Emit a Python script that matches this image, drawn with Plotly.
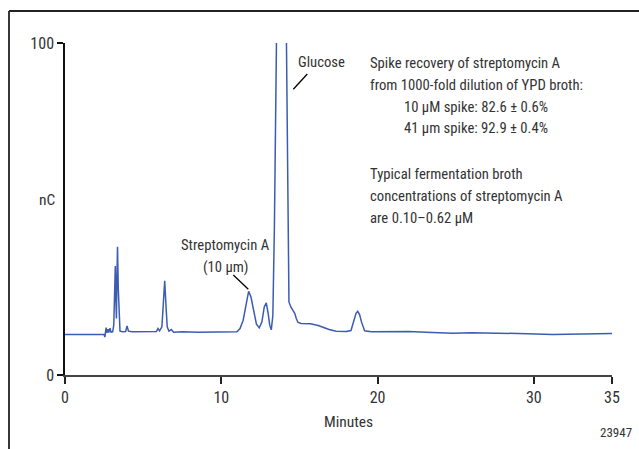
import plotly.graph_objects as go

# Chromatogram points (minutes, nC)
time_min = [0.0, 1.0, 2.0, 2.5, 2.55, 2.6, 2.63, 2.68, 2.75, 2.8, 2.88, 2.94, 3.05,
            3.12, 3.18, 3.22, 3.26, 3.29, 3.32, 3.36, 3.41, 3.46, 3.52, 3.7, 3.88,
            3.97, 4.06, 4.3, 5.0, 5.7, 5.85, 5.95, 6.05, 6.2, 6.3, 6.38, 6.46, 6.54,
            6.65, 6.8, 6.95, 7.5, 8.5, 9.5, 10.5, 11.0, 11.2, 11.4, 11.6, 11.75,
            11.9, 12.05, 12.25, 12.43, 12.6, 12.75, 12.88, 13.0, 13.1, 13.2, 13.3,
            13.4, 13.53, 13.7, 13.85, 14.0, 14.17, 14.27, 14.33, 14.45, 14.6, 14.7,
            14.8, 14.9, 15.1, 15.7, 16.2, 16.6, 16.9, 17.35, 18.0, 18.3, 18.5,
            18.62, 18.73, 18.85, 18.97, 19.17, 19.6, 21.0, 22.0, 23.5, 24.8, 26.0,
            27.4, 29.0, 31.2, 33.0, 35.0]
signal_nc = [12.2, 12.2, 12.2, 12.2, 11.4, 12.6, 14.3, 12.7, 13.8, 12.8, 14.1, 12.9, 13.0,
             15.0, 26.0, 32.8, 22.0, 17.0, 28.0, 38.6, 26.0, 16.0, 13.2, 13.0, 13.1,
             14.8, 13.2, 13.0, 13.0, 12.9, 13.1, 14.0, 13.3, 14.5, 21.0, 28.4, 21.0, 14.5,
             13.2, 13.7, 12.9, 13.0, 12.9, 12.9, 12.9, 13.0, 14.0, 16.5, 21.5, 25.2,
             23.5, 19.5, 15.3, 14.2, 16.0, 20.5, 21.7, 18.5, 15.0, 13.6, 18.0,
             45.0, 100.0, 300.0, 420.0, 300.0, 100.0, 40.0, 22.0, 20.5, 19.2, 18.6,
             17.0, 15.9, 15.5, 15.4, 14.9, 14.1, 13.7, 13.2, 13.1, 13.4, 16.5,
             18.6, 19.2, 18.2, 16.0, 13.3, 13.0, 13.1, 13.1, 12.8, 12.6, 12.7,
             12.7, 12.5, 12.2, 12.4, 12.5]

x_ticks = [0, 10, 20, 30, 35]
y_ticks = [0, 100]

recovery_lines = ["Spike recovery of streptomycin A",
                  "from 1000-fold dilution of YPD broth:"]
recovery_values = ["10 µM spike: 82.6 ± 0.6%",
                   "41 µm spike: 92.9 ± 0.4%"]
typical_lines = ["Typical fermentation broth",
                 "concentrations of streptomycin A",
                 "are 0.10–0.62 µM"]

W, H = 639, 449
ML, MR, MT, MB = 65, 27, 43, 74
PW, PH = W - ML - MR, H - MT - MB


def px(xp):
    return (xp - ML) / PW


def py(yp):
    return (H - MB - yp) / PH


FONT = "Liberation Sans Narrow, Roboto Condensed, DejaVu Sans Condensed, Arial Narrow, sans-serif"
TXT = "#333333"
TS = 14.7

fig = go.Figure()
fig.add_trace(go.Scatter(x=time_min, y=signal_nc, mode="lines",
                         line=dict(color="#3c5cb4", width=1.5),
                         hoverinfo="skip", showlegend=False))

annotations = []


def add_text(text, xp, yp, anchor="left", size=TS):
    annotations.append(dict(text=text, x=px(xp), y=py(yp), xref="paper", yref="paper",
                            xanchor=anchor, yanchor="middle", showarrow=False,
                            font=dict(family=FONT, size=size, color=TXT)))


add_text(recovery_lines[0], 368, 63)
add_text(recovery_lines[1], 368, 85)
add_text(recovery_values[0], 401.5, 107)
add_text(recovery_values[1], 401.5, 128)
add_text(typical_lines[0], 368, 174)
add_text(typical_lines[1], 368, 196)
add_text(typical_lines[2], 368, 218)
add_text("Glucose", 296, 62)
add_text("Streptomycin A", 225.5, 245, anchor="center")
add_text("(10 µm)", 225.5, 267, anchor="center")
add_text("nC", 47, 200, anchor="center", size=15.5)
add_text("Minutes", 349, 422, anchor="center", size=15.5)
add_text("23947", 615.5, 432, anchor="center", size=13)

shapes = [
    # pointer lines
    dict(type="line", xref="paper", yref="paper", x0=px(307.3), y0=py(74),
         x1=px(293.3), y1=py(89.3), line=dict(color="black", width=1.3)),
    dict(type="line", xref="paper", yref="paper", x0=px(233.3), y0=py(275),
         x1=px(248.3), y1=py(289.3), line=dict(color="black", width=1.3)),
    # outer frame (top and left)
    dict(type="line", xref="paper", yref="paper", x0=px(9), y0=py(11),
         x1=px(660), y1=py(11), line=dict(color="#222", width=1.8)),
    dict(type="line", xref="paper", yref="paper", x0=px(9), y0=py(11),
         x1=px(9), y1=py(470), line=dict(color="#222", width=1.8)),
]

fig.update_layout(
    width=W, height=H,
    margin=dict(l=ML, r=MR, t=MT, b=MB, pad=0),
    paper_bgcolor="white", plot_bgcolor="white",
    font=dict(family=FONT, size=16, color=TXT),
    annotations=annotations, shapes=shapes,
    xaxis=dict(range=[0, 35], tickvals=x_ticks, ticktext=[str(v) for v in x_ticks],
               showgrid=False, zeroline=False, showline=True, linecolor="#444",
               linewidth=2, ticks="outside", ticklen=7, tickwidth=1.5, tickcolor="#222",
               tickfont=dict(family=FONT, size=16, color=TXT), automargin=False,
               fixedrange=True),
    yaxis=dict(range=[0, 100], tickvals=y_ticks, ticktext=[str(v) for v in y_ticks],
               showgrid=False, zeroline=False, showline=True, linecolor="#111",
               linewidth=1.5, ticks="outside", ticklen=6, tickwidth=1.5, tickcolor="#111",
               tickfont=dict(family=FONT, size=16, color=TXT), automargin=False,
               fixedrange=True),
)

fig.write_html("out.html")
